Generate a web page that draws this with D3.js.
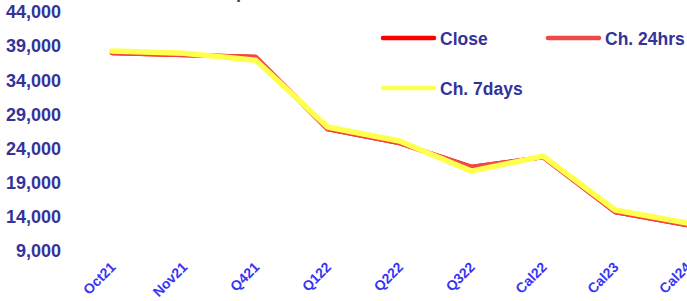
<!DOCTYPE html>
<html>
<head>
<meta charset="utf-8">
<script src="https://cdn.jsdelivr.net/npm/d3@7"></script>
<style>
  body { margin: 0; background: #fff; }
  svg { display: block; font-family: "Liberation Sans", Arial, sans-serif; font-weight: bold; }
</style>
</head>
<body>
<svg id="chart" width="687" height="301"></svg>
<script>
// categories along the x axis
const periods = ["Oct21", "Nov21", "Q421", "Q122", "Q222", "Q322", "Cal22", "Cal23", "Cal24"];
// series values
const closeVals = [38000, 37700, 37400, 26850, 24800, 21300, 22750, 14700, 12800];
const ch24Vals  = [38000, 37700, 37400, 26850, 24800, 21300, 22750, 14700, 12800];
const ch7Vals   = [38300, 37950, 36950, 27150, 25100, 20700, 22900, 15000, 13100];
const yTicks = [9000, 14000, 19000, 24000, 29000, 34000, 39000, 44000];

const series = [
  {name: "Close",     values: closeVals, color: "#ff0000", width: 4.5},
  {name: "Ch. 24hrs", values: ch24Vals,  color: "#f04848", width: 4.5},
  {name: "Ch. 7days", values: ch7Vals,   color: "#ffff4d", width: 5.5}
];

const svg = d3.select("#chart");

const x = d3.scalePoint().domain(periods).range([112, 687]);
const y = d3.scaleLinear().domain([9000, 44000]).range([251, 12]);

// bit of the cut-off title at the top
svg.append("text")
    .attr("x", 236).attr("y", -2)
    .attr("fill", "#1f4e79")
    .style("font-size", "18px")
    .text("p");

/* y axis: labels only */
const yAxis = svg.append("g")
    .attr("transform", "translate(61,0)")
    .call(d3.axisLeft(y).tickValues(yTicks).tickSize(0).tickPadding(0).tickFormat(d3.format(",")));
yAxis.select(".domain").remove();
yAxis.selectAll("text")
    .attr("fill", "#333399")
    .style("font-size", "18px")
    .style("font-family", "'Liberation Sans', Arial, sans-serif")
    .style("font-weight", "bold");

/* x axis: rotated labels */
const xAxis = svg.append("g")
    .attr("transform", "translate(0,262)")
    .call(d3.axisBottom(x).tickSize(0).tickPadding(0));
xAxis.select(".domain").remove();
xAxis.selectAll("text")
    .attr("fill", "#3535f5")
    .style("font-size", "14px")
    .style("font-family", "'Liberation Sans', Arial, sans-serif")
    .style("font-weight", "bold")
    .attr("text-anchor", "end")
    .attr("dy", "0")
    .attr("transform", "translate(4,6) rotate(-45)");

/* lines */
const line = d3.line()
    .x((d, i) => x(periods[i]))
    .y(d => y(d));

svg.append("g").attr("class", "lines")
  .selectAll("path")
  .data(series)
  .join("path")
    .attr("d", d => line(d.values))
    .attr("fill", "none")
    .attr("stroke", d => d.color)
    .attr("stroke-width", d => d.width)
    .attr("stroke-linejoin", "round")
    .attr("stroke-linecap", "round");

/* legend */
const legendPos = [
  {x: 383, y: 38},
  {x: 548, y: 38},
  {x: 383, y: 88}
];
const legend = svg.append("g").attr("class", "legend")
  .selectAll("g")
  .data(series)
  .join("g")
    .attr("transform", (d, i) => `translate(${legendPos[i].x},${legendPos[i].y})`);
legend.append("line")
    .attr("x1", 0).attr("x2", 51)
    .attr("stroke", d => d.color)
    .attr("stroke-width", 4.5)
    .attr("stroke-linecap", "round");
legend.append("text")
    .attr("x", 57).attr("y", 6.5)
    .attr("fill", "#333399")
    .style("font-size", "17.5px")
    .text(d => d.name);
</script>
</body>
</html>
